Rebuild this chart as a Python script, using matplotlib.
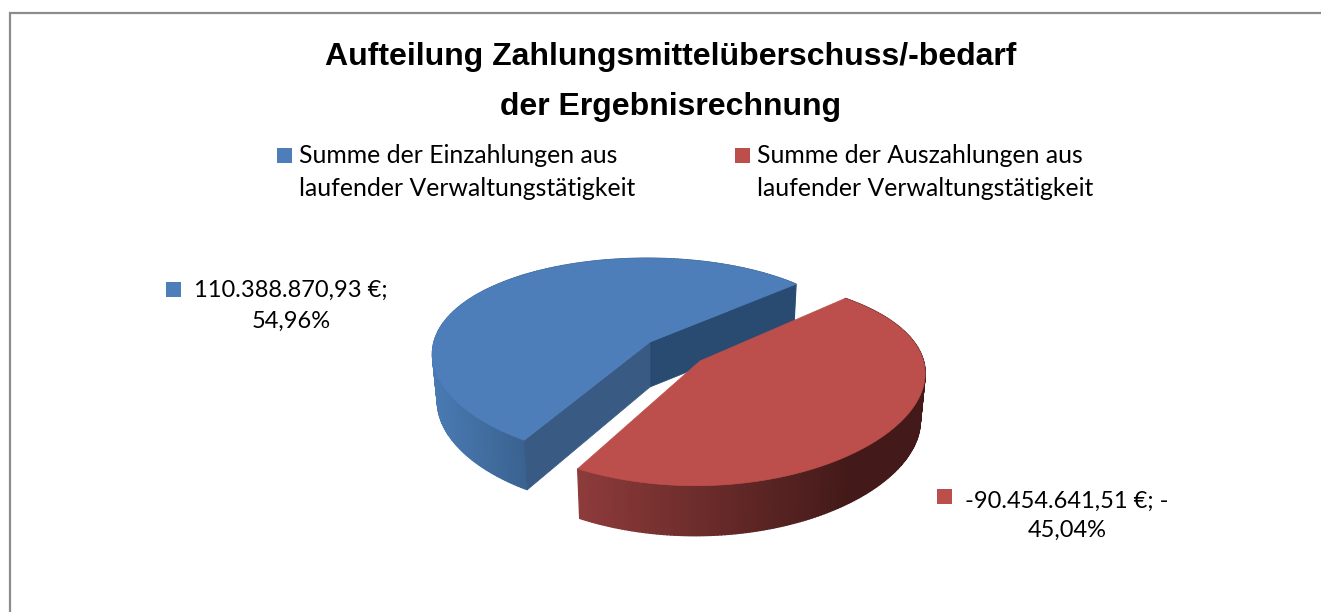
import numpy as np
import matplotlib
matplotlib.use("Agg")
import matplotlib.pyplot as plt
from matplotlib.patches import Polygon, Rectangle
from matplotlib.colors import to_rgb

# Daten
kategorien = ["Summe der Einzahlungen aus\nlaufender Verwaltungstätigkeit",
              "Summe der Auszahlungen aus\nlaufender Verwaltungstätigkeit"]
werte = [110388870.93, 90454641.51]
beschriftung = ["110.388.870,93 €;\n54,96%", "-90.454.641,51 €; -\n45,04%"]
titel = "Aufteilung Zahlungsmittelüberschuss/-bedarf\nder Ergebnisrechnung"

farben = ["#4d7eb9", "#bc4f4b"]
rand_hell = ["#4a7ab4", "#8e3b3b"]
rand_dunkel = ["#3a628f", "#431a19"]

# Projektion je Stück: Mitte der Scheibe, Spitze, Halbachsen, Perspektive, Startwinkel
mitten = [(647, 342), (695.5, 361)]
spitzen = [(650, 342), (700, 361)]
achsen_a = [213, 228]
achsen_b = [98, 101]
persp_y = [0.17, 0.19]
persp_x = 0.12
start = [41, 242.5]
rand_x = [(432, 525), (576, 850)]


def punkt(i, winkel, unten=False):
    t = np.radians(winkel)
    u = np.cos(t)
    v = -np.sin(t)
    x = mitten[i][0] + achsen_a[i] * u / (1 - persp_x * v)
    y = mitten[i][1] + achsen_b[i] * v / (1 - persp_y[i] * v)
    if unten:
        x = 680 + (x - 680) * 0.98
        y = y + 47 + 3 * v
    return np.column_stack([x, y])


fig = plt.figure(figsize=(13.21, 6.12), dpi=100)
ax = fig.add_axes([0, 0, 1, 1])
ax.set_xlim(0, 1321)
ax.set_ylim(612, 0)
ax.axis("off")

# Rahmen nur oben und links sichtbar
ax.plot([9.5, 9.5, 1321], [612, 13, 13], color="#8c8c8c", lw=1.6, solid_joinstyle="miter")

anteile = np.array(werte) / sum(werte)

for i in range(2):
    winkel = np.linspace(start[i], start[i] + 360 * anteile[i], 200)
    oben = punkt(i, winkel)
    unten = punkt(i, winkel, unten=True)

    # Rand mit Verlauf
    lo, hi = rand_x[i]
    for j in range(len(winkel) - 1):
        f = np.clip((oben[j, 0] - lo) / (hi - lo), 0, 1)
        c = np.array(to_rgb(rand_hell[i])) * (1 - f) + np.array(to_rgb(rand_dunkel[i])) * f
        quad = [oben[j], oben[j + 1], unten[j + 1], unten[j]]
        ax.add_patch(Polygon(quad, closed=True, fc=c, ec=c, lw=1.0))

    # Schnittflächen des blauen Stücks
    spitze = np.array(spitzen[i], dtype=float)
    if i == 0:
        spitze_u = spitze + [0, 45]
        ax.add_patch(Polygon([spitze, oben[0], unten[0], spitze_u], closed=True, fc="#2a4b71", ec="#2a4b71", lw=0.5))
        ax.add_patch(Polygon([spitze, oben[-1], unten[-1], spitze_u], closed=True, fc="#385a83", ec="#385a83", lw=0.5))

    # Deckfläche
    ax.add_patch(Polygon(np.vstack([spitze, oben]), closed=True, fc=farben[i], ec=farben[i], lw=0.5))

# Titel
ax.text(671, 82, titel, ha="center", va="center", fontsize=23, fontweight="bold",
        family="Liberation Sans", color="black", linespacing=1.9)

# Legende
leg_x = [277, 735]
for i in range(2):
    ax.add_patch(Rectangle((leg_x[i], 148), 15, 15, fc=farben[i], ec="none"))
    ax.text(leg_x[i] + 22, 172, kategorien[i], ha="left", va="center", fontsize=17.8,
            family="Lato", color="black", linespacing=1.5)

# Datenbeschriftungen
ax.add_patch(Rectangle((166, 282), 15, 15, fc=farben[0], ec="none"))
ax.text(291, 306, beschriftung[0], ha="center", va="center", fontsize=17, family="Lato",
        color="black", linespacing=1.62)
ax.add_patch(Rectangle((937, 489), 15, 15, fc=farben[1], ec="none"))
ax.text(1067, 516, beschriftung[1], ha="center", va="center", fontsize=17, family="Lato",
        color="black", linespacing=1.5)

fig.savefig("out.png", dpi=100)
